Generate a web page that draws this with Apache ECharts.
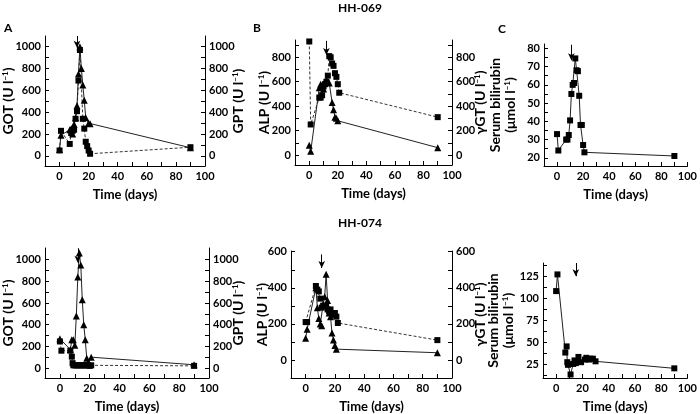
<!DOCTYPE html>
<html>
<head>
<meta charset="utf-8" />
<title>HH-069 / HH-074</title>
<script src="https://cdn.jsdelivr.net/npm/echarts@6/dist/echarts.min.js"></script>
</head>
<body style="margin:0">
<div id="main" style="width:700px;height:414px;"></div>
<script type="text/javascript">
// days and values
// HH-069
var gotDays069 = [0, 1, 7, 8, 9, 10, 11, 12, 13, 14, 16, 17, 18, 19, 20, 21, 90];
var got069     = [50, 230, 110, 210, 230, 240, 340, 410, 690, 970, 340, 250, 130, 90, 50, 20, 80];
var gptDays069 = [0, 1, 7, 8, 9, 10, 11, 12, 13, 14, 15, 16, 17, 18, 20, 21, 90];
var gpt069     = [60, 190, 240, 250, 200, 290, 350, 460, 750, 1000, 800, 650, 510, 350, 300, 295, 75];
var alpDays069 = [0, 1, 7, 8, 9, 10, 11, 12, 13, 14, 15, 16, 17, 18, 19, 20, 21, 90];
var alp069     = [930, 250, 470, 470, 490, 560, 580, 600, 650, 810, 800, 750, 730, 670, 640, 580, 510, 310];
var ggtDays069 = [0, 1, 7, 8, 9, 10, 11, 12, 14, 16, 17, 18, 19, 20, 90];
var ggt069     = [80, 30, 550, 580, 570, 540, 600, 610, 590, 430, 370, 310, 300, 280, 60];
var bilDays069 = [0, 1, 7, 8, 9, 10, 11, 12, 13, 14, 15, 16, 17, 18, 19, 20, 21, 90];
var bil069     = [33, 24, 30, 30, 32.5, 40.5, 55, 60, 61, 74.5, 68, 67.5, 54, 38, 38, 27, 23, 21];

// HH-074
var gotDays074 = [0, 1, 7, 8, 8.5, 9, 10, 11, 12, 13, 14, 15, 16, 17, 18, 19, 20, 21, 90];
var got074     = [245, 160, 160, 105, 45, 25, 25, 25, 25, 25, 25, 25, 25, 25, 25, 25, 20, 25, 20];
var gptDays074 = [0, 7, 8, 9, 10, 11, 12, 13, 14, 15, 16, 17, 18, 19, 21, 90];
var gpt074     = [270, 170, 260, 260, 210, 480, 840, 1060, 950, 630, 400, 260, 90, 40, 100, 30];
var alpDays074 = [0, 1, 7, 8, 9, 10, 11, 12, 13, 14, 15, 16, 17, 18, 19, 20, 21, 22, 90];
var alp074     = [210, 210, 410, 390, 380, 340, 290, 300, 300, 300, 280, 270, 280, 260, 250, 260, 240, 205, 110];
var ggtDays074 = [0, 1, 7, 8, 9, 10, 11, 12, 13, 14, 15, 16, 17, 18, 19, 20, 21, 90];
var ggt074     = [120, 170, 400, 290, 230, 200, 190, 310, 350, 475, 330, 260, 240, 150, 110, 80, 60, 40];
var bilDays074 = [0, 1, 7, 8, 8.5, 9, 11, 13, 14, 15, 16, 17, 19, 22, 23, 25, 26, 28, 30, 90];
var bil074     = [108, 127, 38, 45, 27, 24, 13, 25, 29, 26, 28, 33, 27, 30, 32, 30, 31, 31, 28, 20];

// arrows (day of event) per panel
var arrowDays069 = [12, 12, 11];
var arrowDays074 = [12, 11, 15];

// tick labels
var xLabels = [0, 20, 40, 60, 80, 100];
var xTicks = [0, 10, 20, 30, 40, 50, 60, 70, 80, 90, 100];
var enzLabels = [0, 200, 400, 600, 800, 1000];
var enzTicks = [0, 100, 200, 300, 400, 500, 600, 700, 800, 900, 1000];
var alp069Labels = [0, 200, 400, 600, 800];
var alp074Labels = [0, 200, 400, 600];
var alp074Ticks = [0, 100, 200, 300, 400, 500, 600];
var bil069Labels = [20, 30, 40, 50, 60, 70, 80];
var bil069Ticks = [20, 25, 30, 35, 40, 45, 50, 55, 60, 65, 70, 75, 80];
var bil074Labels = [25, 50, 75, 100, 125];
var bil074Ticks = [12.5, 25, 37.5, 50, 62.5, 75, 87.5, 100, 112.5, 125, 137.5];

var FONT = 'Lato, "Open Sans", sans-serif';
var unitRich = { s: { fontSize: 8, fontWeight: 'bold', fontFamily: FONT, verticalAlign: 'top', lineHeight: 10 } };

function pts(days, vals) {
  return days.map(function (d, i) { return [d, vals[i]]; });
}

function plain(v) { return String(v); }

function xAx(gi) {
  return {
    type: 'value', gridIndex: gi, min: -10, max: 100,
    axisLine: { show: true, onZero: false, lineStyle: { color: '#000', width: 1 } },
    axisTick: { show: true, inside: true, length: 4, customValues: xTicks, lineStyle: { color: '#000' } },
    axisLabel: { customValues: xLabels, formatter: plain, color: '#000', fontWeight: 'bold', fontSize: 11, fontFamily: FONT, margin: 5 },
    splitLine: { show: false },
    name: 'Time (days)', nameLocation: 'middle', nameGap: 22, nameMoveOverlap: false,
    nameTextStyle: { color: '#000', fontWeight: 'bold', fontSize: 13, fontFamily: FONT }
  };
}

function yAx(gi, min, max, labels, ticks, pos, name, gap) {
  return {
    type: 'value', gridIndex: gi, min: min, max: max, position: pos,
    axisLine: { show: true, onZero: false, lineStyle: { color: '#000', width: 1 } },
    axisTick: { show: true, inside: true, length: 4, customValues: ticks, lineStyle: { color: '#000' } },
    axisLabel: { customValues: labels, formatter: plain, color: '#000', fontWeight: 'bold', fontSize: 11, fontFamily: FONT, margin: 4 },
    splitLine: { show: false },
    name: name, nameLocation: 'middle', nameRotate: 90, nameGap: gap, nameMoveOverlap: false,
    nameTextStyle: { color: '#000', fontWeight: 'bold', fontSize: 14, fontFamily: FONT, rich: unitRich, lineHeight: 15 }
  };
}

function line(xi, yi, data, sym, dashed) {
  return {
    type: 'line', xAxisIndex: xi, yAxisIndex: yi, data: data,
    symbol: sym, symbolSize: sym === 'triangle' ? 7 : 6,
    itemStyle: { color: '#000' },
    lineStyle: { color: dashed ? '#333' : '#222', width: 1, type: dashed ? [3, 2] : 'solid' },
    animation: false
  };
}

function arrow(day, from, to) {
  return {
    silent: true, symbol: ['none', 'arrow'], symbolSize: [5, 7],
    lineStyle: { color: '#000', width: 1, type: 'solid' },
    label: { show: false },
    data: [[{ coord: [day, from] }, { coord: [day, to] }]]
  };
}

var myChart = echarts.init(document.getElementById('main'));

var s = [];
s.push(line(0, 0, pts(gotDays069, got069), 'rect', true));
s.push(line(0, 1, pts(gptDays069, gpt069), 'triangle', false));
s[s.length - 1].markLine = arrow(arrowDays069[0], 1098, 990);
s.push(line(1, 2, pts(alpDays069, alp069), 'rect', true));
s.push(line(1, 3, pts(ggtDays069, ggt069), 'triangle', false));
s[s.length - 1].markLine = arrow(arrowDays069[1], 935, 820);
s.push(line(2, 4, pts(bilDays069, bil069), 'rect', false));
s[s.length - 1].markLine = arrow(arrowDays069[2], 82, 73.5);

s.push(line(3, 5, pts(gotDays074, got074), 'rect', true));
s.push(line(3, 6, pts(gptDays074, gpt074), 'triangle', false));
s[s.length - 1].markLine = arrow(arrowDays074[0], 1105, 970);
s.push(line(4, 7, pts(alpDays074, alp074), 'rect', true));
s.push(line(4, 8, pts(ggtDays074, ggt074), 'triangle', false));
s[s.length - 1].markLine = arrow(arrowDays074[1], 585, 510);
s.push(line(5, 9, pts(bilDays074, bil074), 'rect', false));
s[s.length - 1].markLine = arrow(arrowDays074[2], 140, 125);

var option = {
  backgroundColor: '#fff',
  animation: false,
  grid: [
    { left: 45, top: 36, width: 160, height: 130 },
    { left: 295, top: 40, width: 157, height: 125 },
    { left: 544, top: 44, width: 148, height: 122 },
    { left: 45, top: 248, width: 164, height: 134 },
    { left: 291, top: 251, width: 161, height: 131 },
    { left: 543, top: 263, width: 147, height: 119 }
  ],
  xAxis: [xAx(0), xAx(1), xAx(2), xAx(3), xAx(4), xAx(5)],
  yAxis: [
    yAx(0, -92, 1098, enzLabels, enzTicks, 'left', 'GOT (U l{s|−1})', 29),
    yAx(0, -92, 1098, enzLabels, enzTicks, 'right', 'GPT (U l{s|−1})', 26),
    yAx(1, -82, 942, alp069Labels, enzTicks, 'left', 'ALP (U l{s|−1})', 23),
    yAx(1, -82, 942, alp069Labels, enzTicks, 'right', 'γGT (U l{s|−1})', 21),
    yAx(2, 15.5, 82.4, bil069Labels, bil069Ticks, 'left', 'Serum bilirubin\n(μmol l{s|−1})', 26),
    yAx(3, -92, 1107, enzLabels, enzTicks, 'left', 'GOT (U l{s|−1})', 29),
    yAx(3, -92, 1107, enzLabels, enzTicks, 'right', 'GPT (U l{s|−1})', 22),
    yAx(4, -100, 604, alp074Labels, alp074Ticks, 'left', 'ALP (U l{s|−1})', 21),
    yAx(4, -100, 604, alp074Labels, alp074Ticks, 'right', 'γGT (U l{s|−1})', 21),
    yAx(5, 9, 140, bil074Labels, bil074Ticks, 'left', 'Serum bilirubin\n(μmol l{s|−1})', 27)
  ],
  graphic: [
    { type: 'text', left: 360 - 22, top: 2, style: { text: 'HH-069', font: 'bold 12px ' + FONT, fill: '#000' } },
    { type: 'text', left: 360 - 22, top: 217, style: { text: 'HH-074', font: 'bold 12px ' + FONT, fill: '#000' } },
    { type: 'text', left: 4, top: 22, style: { text: 'A', font: 'bold 12px ' + FONT, fill: '#000' } },
    { type: 'text', left: 253, top: 22, style: { text: 'B', font: 'bold 12px ' + FONT, fill: '#000' } },
    { type: 'text', left: 498, top: 23, style: { text: 'C', font: 'bold 12px ' + FONT, fill: '#000' } }
  ],
  series: s
};

myChart.setOption(option);
</script>
</body>
</html>
